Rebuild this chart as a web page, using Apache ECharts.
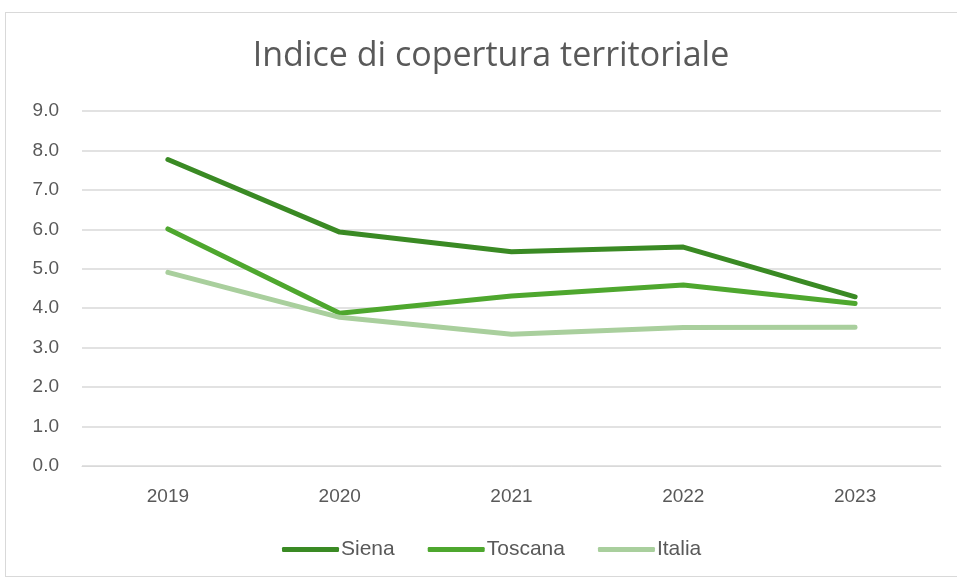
<!DOCTYPE html>
<html>
<head>
<meta charset="utf-8">
<script src="https://cdn.jsdelivr.net/npm/echarts@6/dist/echarts.min.js"></script>
<style>
  html, body { margin: 0; padding: 0; background: #fff; }
  #frame { position: absolute; left: 5px; top: 12px; width: 960px; height: 565px; border: 1px solid #d9d9d9; box-sizing: border-box; }
  #chart { position: absolute; left: 0; top: 0; width: 957px; height: 580px; }
</style>
</head>
<body>
<div id="frame"></div>
<div id="chart"></div>
<script>
// anni sull'asse x
var anni = ['2019', '2020', '2021', '2022', '2023'];
// valori
var siena = [7.77, 5.93, 5.43, 5.55, 4.29];
var toscana = [6.01, 3.87, 4.31, 4.59, 4.12];
var italia = [4.91, 3.77, 3.34, 3.51, 3.52];

var testo = '#595959';
var fontBase = '"Liberation Sans", Arial, sans-serif';

function serie(nome, dati, colore) {
    return {
        name: nome,
        type: 'line',
        data: dati,
        symbol: 'none',
        lineStyle: { width: 5, color: colore, cap: 'round', join: 'round' },
        itemStyle: { color: colore }
    };
}

var myChart = echarts.init(document.getElementById('chart'));
myChart.setOption({
    animation: false,
    title: {
        text: 'Indice di copertura territoriale',
        left: 486,
        textAlign: 'center',
        top: 34,
        textStyle: {
            fontFamily: '"Open Sans", "Liberation Sans", sans-serif',
            fontWeight: 'normal',
            fontSize: 34,
            color: testo
        }
    },
    grid: { left: 82, right: 16, top: 111, bottom: 114, containLabel: false },
    legend: {
        bottom: 15,
        left: 277,
        itemWidth: 57,
        itemHeight: 5,
        itemGap: 33,
        icon: 'roundRect',
        textStyle: { fontFamily: fontBase, fontSize: 21, color: testo, padding: [0, 0, 0, -3] },
        data: ['Siena', 'Toscana', 'Italia']
    },
    xAxis: {
        type: 'category',
        data: anni,
        boundaryGap: true,
        axisLine: { show: true, lineStyle: { color: '#d9d9d9', width: 1 } },
        axisTick: { show: false },
        axisLabel: { color: testo, fontFamily: fontBase, fontSize: 19, margin: 21 }
    },
    yAxis: {
        type: 'value',
        min: 0,
        max: 9,
        interval: 1,
        axisLine: { show: false },
        axisTick: { show: false },
        axisLabel: {
            color: testo, fontFamily: fontBase, fontSize: 19, margin: 23,
            formatter: function (v) { return v.toFixed(1); }
        },
        splitLine: { lineStyle: { color: '#d9d9d9', width: 1.5 } }
    },
    series: [
        serie('Siena', siena, '#3a8a24'),
        serie('Toscana', toscana, '#4ea72e'),
        serie('Italia', italia, '#a9cf9d')
    ]
});
</script>
</body>
</html>
